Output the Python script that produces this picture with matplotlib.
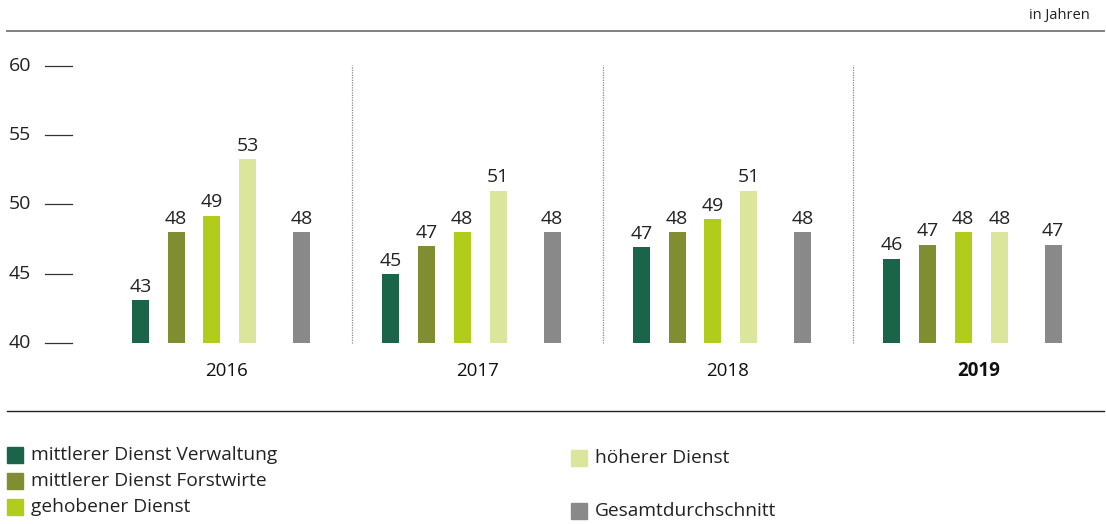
import matplotlib
matplotlib.use("Agg")
import matplotlib.pyplot as plt
from matplotlib.lines import Line2D
from matplotlib.patches import Rectangle

years = ["2016", "2017", "2018", "2019"]
series_names = ["mittlerer Dienst Verwaltung", "mittlerer Dienst Forstwirte",
                "gehobener Dienst", "höherer Dienst", "Gesamtdurchschnitt"]
colors = ["#1a654a", "#808d30", "#b1cc1a", "#dbe59c", "#898989"]
# bar heights (as drawn) and printed labels
values = [
    [43.1, 45.0, 46.9, 46.1],
    [48.0, 47.0, 48.0, 47.1],
    [49.2, 48.0, 48.95, 48.0],
    [53.3, 51.0, 51.0, 48.0],
    [48.0, 48.0, 48.0, 47.1],
]
labels = [
    ["43", "45", "47", "46"],
    ["48", "47", "48", "47"],
    ["49", "48", "49", "48"],
    ["53", "51", "51", "48"],
    ["48", "48", "48", "47"],
]
yticks = [40, 45, 50, 55, 60]

FONT = ["Open Sans", "DejaVu Sans"]
plt.rcParams["font.family"] = FONT
W, H = 1106, 524
fig = plt.figure(figsize=(W / 100, H / 100), dpi=100)

def fx(px):
    return px / W

def fy(py):
    return 1 - py / H

ax = fig.add_axes([fx(101.5), fy(343), fx(1002), 277 / H])
ax.set_xlim(-0.5, 3.5)
ax.set_ylim(40, 60)
ax.axis("off")

offsets = [-0.345, -0.202, -0.060, 0.084, 0.299]
width = 0.068
for s in range(5):
    xs = [g + offsets[s] for g in range(4)]
    ax.bar(xs, [v - 40 for v in values[s]], bottom=40, width=width,
           color=colors[s], align="center")
    for x, v, lab in zip(xs, values[s], labels[s]):
        ax.annotate(lab, (x, v), xytext=(0, 3), textcoords="offset points",
                    ha="center", va="bottom", fontsize=14, color="#222222")

for sep in [0.5, 1.5, 2.5]:
    ax.plot([sep, sep], [40, 60.1], color="#888888", lw=0.9,
            linestyle=(0, (1, 1)), clip_on=False)

for i, yr in enumerate(years):
    ax.text(i, 38.0, yr, ha="center", va="center", fontsize=13.5,
            color="#111111", fontweight="bold" if yr == "2019" else "normal")

# y ticks (drawn outside axes)
for t in yticks:
    yy = ax.transData.transform((0, t))[1] / H
    fig.add_artist(Line2D([fx(45), fx(72)], [yy, yy], color="#333333", lw=0.9))
    fig.text(fx(31), yy, str(t), ha="right", va="center", fontsize=14,
             color="#222222")

# top and bottom rules
fig.add_artist(Line2D([fx(7), fx(1104)], [fy(31), fy(31)], color="#808080", lw=1.4))
fig.add_artist(Line2D([fx(7), fx(1104)], [fy(411), fy(411)], color="#222222", lw=1.0))
fig.text(fx(1090), fy(15), "in Jahren", ha="right", va="center", fontsize=10.5,
         color="#222222")

# legend
legend_pos = [(7, 455), (7, 481), (7, 507), (571, 458), (571, 511)]
for s, (lx, ly) in enumerate(legend_pos):
    fig.add_artist(Rectangle((fx(lx), fy(ly + 8)), fx(16), 16 / H,
                             color=colors[s], transform=fig.transFigure))
    fig.text(fx(lx + 24), fy(ly), series_names[s], ha="left", va="center",
             fontsize=13.8, color="#222222")

fig.savefig("out.png", dpi=100)
